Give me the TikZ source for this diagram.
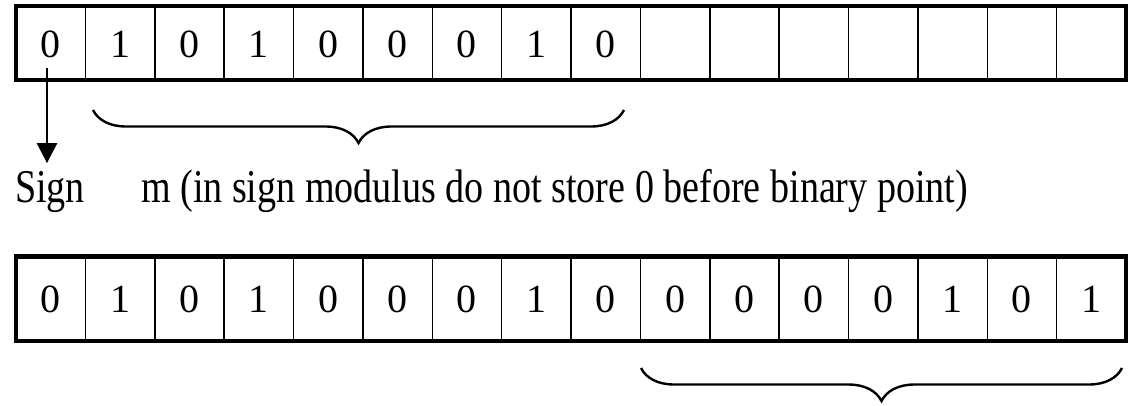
\documentclass[tikz,border=0pt]{standalone}
\usepackage{fontspec}
\setmainfont{Liberation Serif}
\usepackage{graphicx}
\usetikzlibrary{arrows.meta,decorations.pathreplacing}
\tikzset{
	bit/.style={font=\fontsize{40}{42}\selectfont, inner sep=0pt},
	rowframe/.style={line width=4.5pt},
	cellline/.style={line width=1.5pt},
	curly/.style={line width=2.4pt, decorate, decoration={brace, mirror, amplitude=33pt}},
	notetext/.style={font=\fontsize{47}{50}\selectfont, inner sep=0pt, anchor=base west},
	signarrow/.style={line width=2.7pt, -{Triangle[length=20pt,width=20pt]}, shorten >=7.6pt}
}
\newcommand{\squeeze}[1]{\scalebox{0.81}[1]{#1}}

\begin{document}
\begin{tikzpicture}[x=1pt, y=-1pt]
			%%%%% START %%%%%
			\useasboundingbox (0, 0) rectangle (1140, 405);
			
			% top register
			\draw[rowframe] (16, 6) rectangle (1126, 80);
			\foreach \k in {1,...,15}
				\draw[cellline] (16+69.375*\k, 6) -- (16+69.375*\k, 80);
			
			\node[bit] (t1) at (50.69, 44) {0};
			\node[bit] (t2) at (120.06, 44) {1};
			\node[bit] (t3) at (189.44, 44) {0};
			\node[bit] (t4) at (258.81, 44) {1};
			\node[bit] (t5) at (328.19, 44) {0};
			\node[bit] (t6) at (397.56, 44) {0};
			\node[bit] (t7) at (466.94, 44) {0};
			\node[bit] (t8) at (536.31, 44) {1};
			\node[bit] (t9) at (605.69, 44) {0};
			
			\draw[curly] (93, 110) -- (624, 110);
			
			% sign and mantissa notes
			\node[notetext] (sign) at (15, 202) {\squeeze{Sign}};
			\node[notetext] (mnote) at (141, 202) {\squeeze{m (in sign modulus do not store 0 before binary point)}};
			
			\coordinate (signbit) at (47, 68);
			\draw[signarrow] (signbit) -- (signbit |- sign.north);
			
			% bottom register
			\draw[rowframe] (16, 256.5) rectangle (1126, 341);
			\foreach \k in {1,...,15}
				\draw[cellline] (16+69.375*\k, 256.5) -- (16+69.375*\k, 341);
			
			\node[bit] (b1) at (50.69, 299) {0};
			\node[bit] (b2) at (120.06, 299) {1};
			\node[bit] (b3) at (189.44, 299) {0};
			\node[bit] (b4) at (258.81, 299) {1};
			\node[bit] (b5) at (328.19, 299) {0};
			\node[bit] (b6) at (397.56, 299) {0};
			\node[bit] (b7) at (466.94, 299) {0};
			\node[bit] (b8) at (536.31, 299) {1};
			\node[bit] (b9) at (605.69, 299) {0};
			\node[bit] (b10) at (675.06, 299) {0};
			\node[bit] (b11) at (744.44, 299) {0};
			\node[bit] (b12) at (813.81, 299) {0};
			\node[bit] (b13) at (883.19, 299) {0};
			\node[bit] (b14) at (952.56, 299) {1};
			\node[bit] (b15) at (1021.94, 299) {0};
			\node[bit] (b16) at (1091.31, 299) {1};
			
			\draw[curly] (641, 368) -- (1122, 368);
			
			%%%%% END %%%%%
\end{tikzpicture}
\end{document}
